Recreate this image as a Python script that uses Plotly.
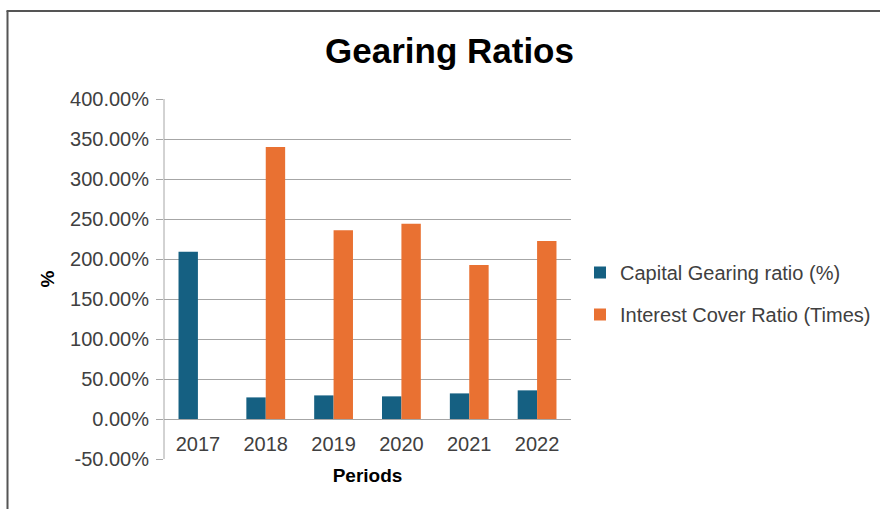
import plotly.graph_objects as go

periods = ["2017", "2018", "2019", "2020", "2021", "2022"]
capital_gearing = [209, 27, 29.5, 28.3, 32, 35.8]
interest_cover = [None, 340, 236, 244, 192.5, 222.5]
y_tick_vals = [-50, 0, 50, 100, 150, 200, 250, 300, 350, 400]
y_tick_text = ["-50.00%", "0.00%", "50.00%", "100.00%", "150.00%", "200.00%",
               "250.00%", "300.00%", "350.00%", "400.00%"]

W, H = 880, 509
L, R, T, B = 164, 571, 98, 460  # plot area in pixels (1px padding beyond -50/400)

FONT = "Liberation Sans, Arial, sans-serif"
TXT = "#404040"
GRID = "#a6a6a6"


def px_x(px):
    return (px - L) / (R - L)


def px_y(py):
    return (B - py) / (B - T)


fig = go.Figure()
fig.add_trace(go.Bar(x=periods, y=capital_gearing, name="Capital Gearing ratio (%)",
                     marker=dict(color="#156082", line=dict(width=0)),
                     legendgroup="a"))
fig.add_trace(go.Bar(x=periods, y=interest_cover, name="Interest Cover Ratio (Times)",
                     marker=dict(color="#E97132", line=dict(width=0)),
                     legendgroup="b"))

# outer chart border (top and left visible)
border = dict(color="#555555", width=2)
fig.add_shape(type="line", xref="paper", yref="paper",
              x0=px_x(7.5), x1=px_x(7.5), y0=px_y(512), y1=px_y(11), line=border)
fig.add_shape(type="line", xref="paper", yref="paper",
              x0=px_x(6.5), x1=px_x(885), y0=px_y(11), y1=px_y(11), line=border)

fig.update_layout(
    width=W, height=H,
    margin=dict(l=L, r=W - R, t=T, b=H - B, pad=0, autoexpand=False),
    paper_bgcolor="white", plot_bgcolor="white",
    font=dict(family=FONT, size=20, color=TXT),
    barmode="group", bargap=0.428, bargroupgap=0,
    title=dict(text="<b>Gearing Ratios</b>", x=449.5 / W, xref="container", xanchor="center",
               y=1 - 51 / H, yref="container", yanchor="middle",
               font=dict(family=FONT, size=35, color="black")),
    showlegend=True,
    legend=dict(x=px_x(580), xanchor="left", y=px_y(293.5), yanchor="middle",
                traceorder="grouped", tracegroupgap=13,
                font=dict(family=FONT, size=20, color=TXT), bgcolor="rgba(0,0,0,0)"),
    xaxis=dict(type="category", anchor="free", position=(0 + 51.25) / 452.5,
               showgrid=False, showline=False, ticks="", zeroline=False,
               ticklabelstandoff=11,
               tickfont=dict(family=FONT, size=20, color=TXT),
               title=dict(text="<b>Periods</b>", standoff=14,
                          font=dict(family=FONT, size=19, color="black"))),
    yaxis=dict(range=[-51.25, 401.25], tickvals=y_tick_vals, ticktext=y_tick_text,
               showgrid=True, gridcolor=GRID, gridwidth=1,
               zeroline=False, showline=False,
               ticks="outside", ticklen=7, tickcolor=GRID, tickwidth=1,
               ticklabelstandoff=3,
               tickfont=dict(family=FONT, size=20, color=TXT),
               title=dict(text="<b>%</b>", standoff=10,
                          font=dict(family=FONT, size=19, color="black"))),
)

# left value-axis line from -50% to 400%
fig.add_shape(type="line", xref="paper", yref="y", x0=0, x1=0, y0=-50, y1=400,
              line=dict(color=GRID, width=1))

fig.write_html("out.html")
